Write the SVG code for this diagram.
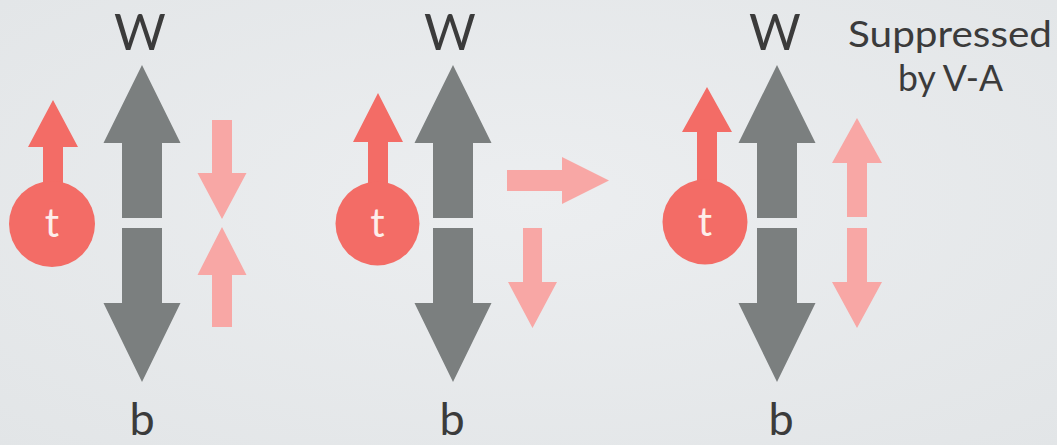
<svg xmlns="http://www.w3.org/2000/svg" xmlns:xlink="http://www.w3.org/1999/xlink" width="1057" height="445" viewBox="0 0 1057 445">
<defs>
<radialGradient id="bg" cx="50%" cy="45%" r="75%">
<stop offset="0" stop-color="#eceef0"/>
<stop offset="1" stop-color="#e2e5e7"/>
</radialGradient>
<path id="gray" d="M0,65 L38.5,143 L20,143 L20,218 L-20,218 L-20,143 L-38.5,143 Z M-20,228 L20,228 L20,303 L38.5,303 L0,382 L-38.5,303 L-20,303 Z"/>
</defs>
<style>
.g{fill:#7b7f7f}
.r{fill:#f36c66}
.p{fill:#f8a7a5}
.lbl{font-family:Lato,"Liberation Sans",sans-serif;fill:#3b3b3b}
.tl{font-family:Lato,"Liberation Sans",sans-serif;fill:#fdeeea;font-size:40px;text-anchor:middle}
</style>
<rect width="1057" height="445" fill="url(#bg)"/>

<g id="panel1">
<use xlink:href="#gray" href="#gray" class="g" transform="translate(142,0)"/>
<g id="top1">
<path class="r" d="M53,100 L78,147 L63,147 L63,190 L43,190 L43,147 L28,147 Z"/>
<circle class="r" cx="52" cy="224" r="43"/>
<text class="tl" x="52" y="237">t</text>
</g>
<path class="p" d="M212,120 L232,120 L232,173 L246.5,173 L222,219 L197.5,173 L212,173 Z"/>
<path class="p" d="M222,227 L246.5,275 L232,275 L232,327 L212,327 L212,275 L197.5,275 Z"/>
<text class="lbl" x="140" y="50" font-size="50" text-anchor="middle">W</text>
<text class="lbl" x="142" y="435" font-size="45" text-anchor="middle">b</text>
</g>

<g id="panel2">
<use xlink:href="#gray" href="#gray" class="g" transform="translate(453,0)"/>
<g id="top2">
<path class="r" d="M378,93 L403,142 L388,142 L388,190 L368,190 L368,142 L353,142 Z"/>
<circle class="r" cx="377.5" cy="223.5" r="42"/>
<text class="tl" x="377.5" y="237">t</text>
</g>
<path class="p" d="M507,170 L562,170 L562,157 L609,180.5 L562,204 L562,191 L507,191 Z"/>
<path class="p" d="M523,228 L542,228 L542,282 L557,282 L532.5,328 L508,282 L523,282 Z"/>
<text class="lbl" x="450" y="50" font-size="50" text-anchor="middle">W</text>
<text class="lbl" x="452" y="435" font-size="45" text-anchor="middle">b</text>
</g>

<g id="panel3">
<use xlink:href="#gray" href="#gray" class="g" transform="translate(777,0)"/>
<g id="top3">
<path class="r" d="M707,87 L732,132 L717,132 L717,190 L697,190 L697,132 L682,132 Z"/>
<circle class="r" cx="705" cy="222" r="42.5"/>
<text class="tl" x="705" y="236">t</text>
</g>
<path class="p" d="M857,118 L882,163 L867,163 L867,217 L847,217 L847,163 L832,163 Z"/>
<path class="p" d="M847,228 L867,228 L867,282 L882,282 L857,328 L832,282 L847,282 Z"/>
<text class="lbl" x="775" y="50" font-size="50" text-anchor="middle">W</text>
<text class="lbl" x="781" y="435" font-size="45" text-anchor="middle">b</text>
</g>

<g id="note">
<text class="lbl" x="950" y="47" font-size="36" text-anchor="middle" textLength="204" lengthAdjust="spacingAndGlyphs">Suppressed</text>
<text class="lbl" x="950.5" y="91" font-size="36" text-anchor="middle" textLength="105" lengthAdjust="spacingAndGlyphs">by V-A</text>
</g>
</svg>
